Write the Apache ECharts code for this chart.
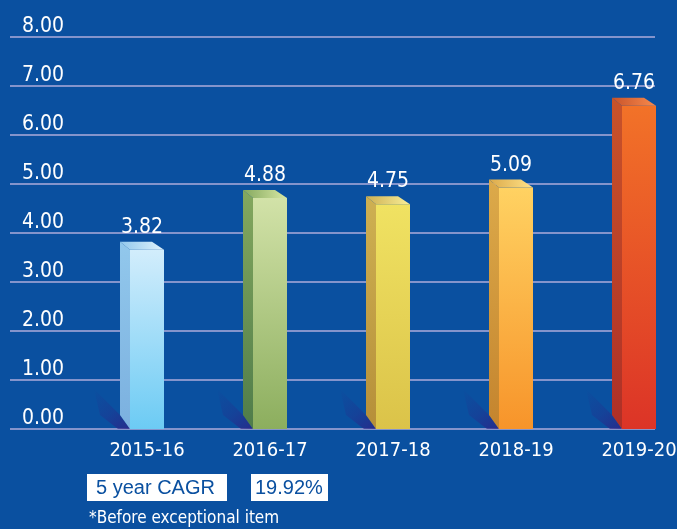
<!DOCTYPE html>
<html>
<head>
<meta charset="utf-8">
<script src="https://cdn.jsdelivr.net/npm/echarts@6/dist/echarts.min.js"></script>
<style>
  html, body { margin: 0; padding: 0; background: #0a50a0; }
  #chart { width: 677px; height: 529px; }
</style>
</head>
<body>
<div id="chart"></div>
<script>
// data
const years = ['2015-16', '2016-17', '2017-18', '2018-19', '2019-20']
const eps = [3.82, 4.88, 4.75, 5.09, 6.76]
const yTicks = [0, 1, 2, 3, 4, 5, 6, 7, 8]
const cagrLabel = '5 year CAGR'
const cagrValue = '19.92%'
const footnote = '*Before exceptional item'

// per-bar colours: front top, front bottom, side top, side bottom, top face
const palette = [
  ['#d2edfc', '#6ccbf4', '#92c8ec', '#7bb0df', '#e0f3fd'],
  ['#d2e2a8', '#8cae5e', '#84a85e', '#4f7c4a', '#d8e8a4'],
  ['#f0e262', '#dbc349', '#ceb052', '#b68f39', '#f8ee98'],
  ['#ffd262', '#f7942a', '#dcaa4a', '#c4842e', '#ffe288'],
  ['#f27228', '#dc3427', '#c8532a', '#ae2f27', '#f88a4c']
]

const font = '"DejaVu Sans Condensed", "DejaVu Sans", sans-serif'
const FRONT = 34   // front face width
const DX = 10      // depth shift to the left
const DY = 8       // depth shift upwards

const vgrad = (a, b) => new echarts.graphic.LinearGradient(0, 0, 0, 1, [
  { offset: 0, color: a }, { offset: 1, color: b }
])

const renderBar = (params, api) => {
  const i = params.dataIndex
  const v = api.value(1)
  const top = api.coord([api.value(0), v])
  const base = api.coord([api.value(0), 0])
  const x = top[0]
  const yBack = top[1]
  const yFront = yBack + DY
  const y0 = base[1]
  const c = palette[i]
  const l = x - FRONT / 2
  const r = x + FRONT / 2
  return {
    type: 'group',
    children: [
      {
        // soft floor shadow behind the side face
        type: 'polygon',
        shape: { points: [[l, y0], [l - DX, y0 - 14], [l - 36, y0 - 40], [l - 30, y0 - 14], [l - 12, y0]] },
        style: {
          fill: new echarts.graphic.LinearGradient(1, 1, 0, 0, [
            { offset: 0, color: 'rgba(45,35,135,0.8)' },
            { offset: 0.45, color: 'rgba(45,35,135,0.3)' },
            { offset: 1, color: 'rgba(45,35,135,0)' }
          ])
        }
      },
      {
        type: 'polygon',
        shape: { points: [[l, yFront], [l - DX, yBack], [l - DX, y0 - 14], [l, y0]] },
        style: { fill: vgrad(c[2], c[3]) }
      },
      {
        type: 'rect',
        shape: { x: l, y: yFront, width: FRONT, height: y0 - yFront },
        style: { fill: vgrad(c[0], c[1]) }
      },
      {
        type: 'polygon',
        shape: { points: [[l - DX, yBack], [r - 12, yBack], [r, yFront], [l, yFront]] },
        style: {
          fill: new echarts.graphic.LinearGradient(0, 0, 1, 0, [
            { offset: 0, color: c[2] }, { offset: 1, color: c[4] }
          ])
        }
      },
      {
        type: 'text',
        style: {
          text: v.toFixed(2),
          x: x - 5,
          y: yBack - 4,
          align: 'center',
          verticalAlign: 'bottom',
          fill: '#ffffff',
          font: '21px ' + font
        }
      },
      {
        type: 'text',
        style: {
          text: years[i],
          x: x,
          y: y0 + 22,
          align: 'center',
          verticalAlign: 'middle',
          fill: '#ffffff',
          font: '20px ' + font
        }
      }
    ]
  }
}

const chart = echarts.init(document.getElementById('chart'))
chart.setOption({
  backgroundColor: '#0a50a0',
  animation: false,
  grid: { left: 10, right: 22, top: 37, bottom: 100 },
  // bar centres sit 123px apart, the first at x=147
  xAxis: { type: 'value', min: -137 / 123, max: 508 / 123, show: false },
  yAxis: {
    type: 'value',
    min: yTicks[0],
    max: yTicks[yTicks.length - 1],
    interval: 1,
    axisLine: { show: false },
    axisTick: { show: false },
    splitLine: { lineStyle: { color: '#8494cc', width: 2 } },
    axisLabel: {
      inside: true,
      margin: 12,
      align: 'left',
      verticalAlign: 'bottom',
      color: '#ffffff',
      fontFamily: font,
      fontSize: 21,
      formatter: v => v.toFixed(2)
    }
  },
  series: [
    {
      type: 'custom',
      renderItem: renderBar,
      clip: false,
      data: years.map((y, i) => [i, eps[i]])
    }
  ],
  graphic: [
    {
      type: 'rect',
      shape: { x: 87, y: 474, width: 140, height: 27 },
      style: { fill: '#ffffff' }
    },
    {
      type: 'text',
      style: {
        text: cagrLabel, x: 96, y: 488, verticalAlign: 'middle',
        fill: '#0a50a0', font: '20px "Liberation Sans", Arial, sans-serif'
      }
    },
    {
      type: 'rect',
      shape: { x: 251, y: 474, width: 77, height: 27 },
      style: { fill: '#ffffff' }
    },
    {
      type: 'text',
      style: {
        text: cagrValue, x: 255, y: 488, verticalAlign: 'middle',
        fill: '#0a50a0', font: '20px "Liberation Sans", Arial, sans-serif'
      }
    },
    {
      type: 'text',
      style: {
        text: footnote, x: 89, y: 519, verticalAlign: 'middle',
        fill: '#ffffff', font: '17px ' + font
      }
    }
  ]
})
</script>
</body>
</html>
